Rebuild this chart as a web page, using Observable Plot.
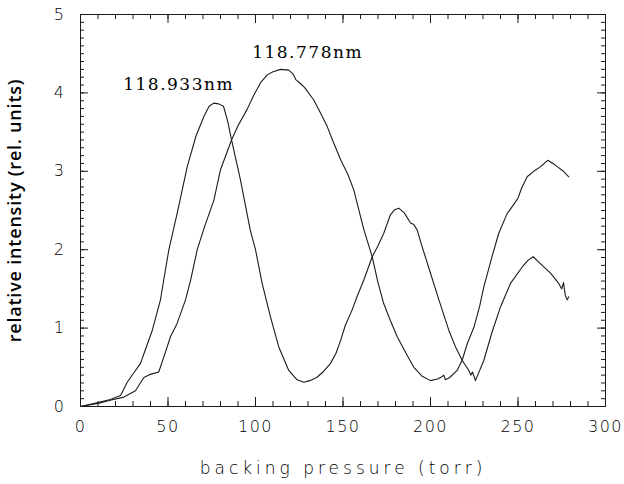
<!DOCTYPE html>
<html>
<head>
<meta charset="utf-8">
<script src="https://cdn.jsdelivr.net/npm/d3@7"></script>
<script src="https://cdn.jsdelivr.net/npm/@observablehq/plot@0.6"></script>
<style>
  html, body { margin: 0; padding: 0; background: #fff; }
  #chart svg { display: block; }
  g[aria-label="x-axis tick label"] text,
  g[aria-label="y-axis tick label"] text {
    font-family: "DejaVu Sans", sans-serif; font-weight: 200; font-size: 16px; letter-spacing: 1.5px; fill: #000;
  }
</style>
</head>
<body>
<div id="chart"></div>
<script>
// 118.933nm line
const xA = [0,10,17,22.9,26.7,30.5,34.3,37,41,45.7,47.6,50.5,55.2,61,66,70.5,73.5,76.2,79,81.7,84,86.3,91.4,97,100,103.8,108.6,113.3,119,123.8,127.6,131,135,139,142.9,146,148.6,151.4,155,158,162,166.7,170,173.3,177,179.5,181.9,185,188.6,190.5,192.4,195.2,200,204.8,210.5,214.3,218.1,221.9,223,224,225.7,230.5,235.2,240,245.7,252.4,256,258.7,262.9,268.6,273.3,275,276,277,278.1,279];
const yA = [0,0.05,0.09,0.14,0.31,0.43,0.55,0.72,0.97,1.36,1.62,2.0,2.46,3.06,3.45,3.70,3.83,3.87,3.86,3.83,3.65,3.40,2.89,2.25,2.0,1.57,1.14,0.76,0.46,0.34,0.31,0.33,0.37,0.45,0.55,0.68,0.84,1.04,1.22,1.40,1.62,1.91,2.05,2.21,2.44,2.51,2.53,2.47,2.34,2.32,2.25,2.04,1.70,1.36,0.97,0.76,0.59,0.46,0.40,0.44,0.33,0.59,0.95,1.27,1.57,1.78,1.87,1.91,1.82,1.70,1.57,1.50,1.58,1.42,1.36,1.40];
// 118.778nm line
const xB = [0,10,17,24.8,31.4,36.2,40,44.7,47.6,51.4,55.2,60,62.9,66.7,71,76.2,80,86.3,90,95.2,99,102.9,106.7,110,114.3,119,121.5,123,125.7,128,133.3,137,141,144.5,148.6,153,156.2,158.1,162,166.7,170,173.3,177,181,186,190.5,195,200,204,206.5,207.6,208.5,211,215.2,218.1,221,224.8,228,230.5,235,239,243.8,248.6,250,252,255.2,259,262.9,265,267,270,272.4,276,279];
const yB = [0,0.04,0.08,0.12,0.20,0.37,0.41,0.44,0.63,0.89,1.06,1.36,1.61,2.0,2.3,2.63,3.02,3.40,3.58,3.79,3.97,4.13,4.23,4.27,4.30,4.29,4.24,4.17,4.12,4.07,3.91,3.75,3.57,3.37,3.15,2.95,2.76,2.59,2.25,1.91,1.58,1.31,1.10,0.89,0.68,0.50,0.39,0.33,0.35,0.38,0.40,0.34,0.37,0.46,0.59,0.80,1.01,1.27,1.53,1.90,2.21,2.46,2.61,2.66,2.78,2.93,3.00,3.06,3.10,3.14,3.10,3.06,3.00,2.93];

const lineLabels = ["118.933nm", "118.778nm"];
const lineLabelX = [24.4, 98.1];
const lineLabelY = [4.04, 4.45];

const xMajor = [0, 50, 100, 150, 200, 250, 300];
const xMinor = d3.range(0, 301, 10);
const yMajor = [0, 1, 2, 3, 4, 5];
const yMinor = d3.range(0, 51, 1).map(d => d / 10);

const xTitle = "backing pressure (torr)";
const yTitle = "relative intensity (rel. units)";

const A = xA.map((x, i) => ({x, y: yA[i]}));
const B = xB.map((x, i) => ({x, y: yB[i]}));
const labels = lineLabels.map((t, i) => ({t, x: lineLabelX[i], y: lineLabelY[i]}));

const ink = "#1c1c1c";
const W = 624, H = 484, mL = 80, mR = 19, mT = 14, mB = 78;
const fw = W - mL - mR, fh = H - mT - mB;

const chart = Plot.plot({
  width: W, height: H,
  marginLeft: mL, marginRight: mR, marginTop: mT, marginBottom: mB,
  style: {background: "#fff", color: ink},
  x: {domain: [0, 300]},
  y: {domain: [0, 5]},
  marks: [
    Plot.frame({stroke: ink}),
    // inward ticks on all four sides
    Plot.ruleX(xMinor, {x: d => d, insetTop: fh - 5, stroke: ink}),
    Plot.ruleX(xMajor, {x: d => d, insetTop: fh - 9, stroke: ink}),
    Plot.ruleX(xMinor, {x: d => d, insetBottom: fh - 5, stroke: ink}),
    Plot.ruleX(xMajor, {x: d => d, insetBottom: fh - 9, stroke: ink}),
    Plot.ruleY(yMinor, {y: d => d, insetRight: fw - 4, stroke: ink}),
    Plot.ruleY(yMajor, {y: d => d, insetRight: fw - 8, stroke: ink}),
    Plot.ruleY(yMinor, {y: d => d, insetLeft: fw - 4, stroke: ink}),
    Plot.ruleY(yMajor, {y: d => d, insetLeft: fw - 8, stroke: ink}),
    // tick labels
    Plot.axisX(xMajor, {anchor: "bottom", tickSize: 0, tickPadding: 14, label: null, tickFormat: d => String(d)}),
    Plot.axisY(yMajor, {anchor: "left", tickSize: 0, tickPadding: 15, label: null, tickFormat: d => String(d)}),
    Plot.line(A, {x: "x", y: "y", stroke: ink, strokeWidth: 1.1}),
    Plot.line(B, {x: "x", y: "y", stroke: ink, strokeWidth: 1.1}),
    Plot.text(labels, {x: "x", y: "y", text: "t", textAnchor: "start", lineAnchor: "bottom",
      fontFamily: "DejaVu Serif", fontSize: 17, fill: "#000"}),
    Plot.text([xTitle], {frameAnchor: "bottom", textAnchor: "middle", lineAnchor: "bottom", dy: 67,
      fontFamily: "DejaVu Sans", fontWeight: 200, fontSize: 17, fill: "#000"}),
    Plot.text([yTitle], {frameAnchor: "left", textAnchor: "middle", lineAnchor: "middle", dx: -65, rotate: -90,
      fontFamily: "Open Sans", fontWeight: 600, fontSize: 18, fill: "#000"})
  ]
});
const spacing = ["1.5px", "4px", "0.8px"];
d3.select(chart).selectAll('g[aria-label="text"]').each(function(_, i) {
  d3.select(this).selectAll("text").style("letter-spacing", spacing[i]);
});
document.getElementById("chart").append(chart);
</script>
</body>
</html>
